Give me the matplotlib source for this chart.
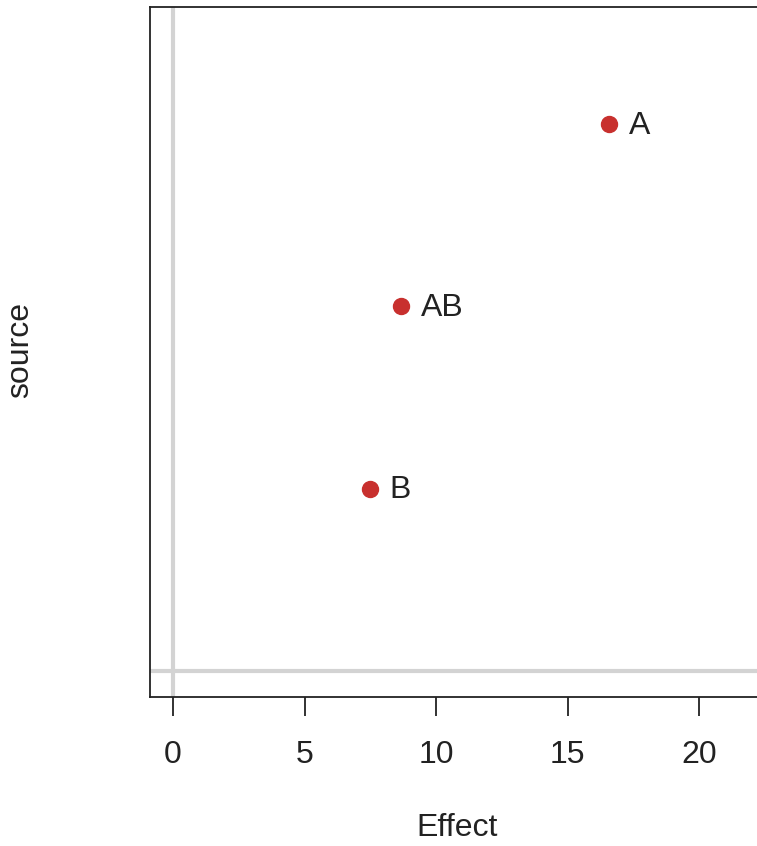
import matplotlib
matplotlib.use("Agg")
import matplotlib.pyplot as plt

plt.rcParams['font.family'] = ['Liberation Sans', 'DejaVu Sans']

# Estimated effects per source term
sources = ["B", "AB", "A"]
effects = [7.49, 8.67, 16.58]
positions = [1, 2, 3]
x_ticks = [0, 5, 10, 15, 20]

W, H = 757, 846
fig = plt.figure(figsize=(W / 100, H / 100), dpi=100)

# Plot region in pixels (box runs off the right edge)
left_px, right_px, top_px, bottom_px = 150, 800, 7, 697
ax = fig.add_axes([left_px / W, 1 - bottom_px / H,
                   (right_px - left_px) / W, (bottom_px - top_px) / H])

px_per_unit = 26.3
x0_px = 173
ax.set_xlim((left_px - x0_px) / px_per_unit, (right_px - x0_px) / px_per_unit)
y_per_px = 1 / 182
ax.set_ylim(-(bottom_px - 671) * y_per_px, 3 + (124 - top_px) * y_per_px)

ax.axvline(0, color="#d3d3d3", lw=3, zorder=1)
ax.axhline(0, color="#d3d3d3", lw=3, zorder=1)

red = "#c8302e"
ax.plot(effects, positions, "o", color=red, ms=11.5, mec=red, zorder=3)
for e, p, s in zip(effects, positions, sources):
    ax.annotate(s, (e, p), xytext=(14, -1), textcoords="offset points",
                va="center", ha="left", fontsize=23, color="#222222")

ax.set_xticks(x_ticks)
ax.set_xticklabels([str(t) for t in x_ticks])
ax.set_yticks([])
ax.tick_params(axis="x", length=14, width=1.3, pad=17, labelsize=23,
               colors="#222222")
for sp in ax.spines.values():
    sp.set_linewidth(1.3)
    sp.set_color("#222222")

fig.text(457 / W, 1 - 828 / H, "Effect", ha="center", va="center",
         fontsize=23, color="#222222")
fig.text(20 / W, 1 - 350 / H, "source", ha="center", va="center",
         rotation=90, fontsize=23, color="#222222")

fig.savefig("out.png", dpi=100)
